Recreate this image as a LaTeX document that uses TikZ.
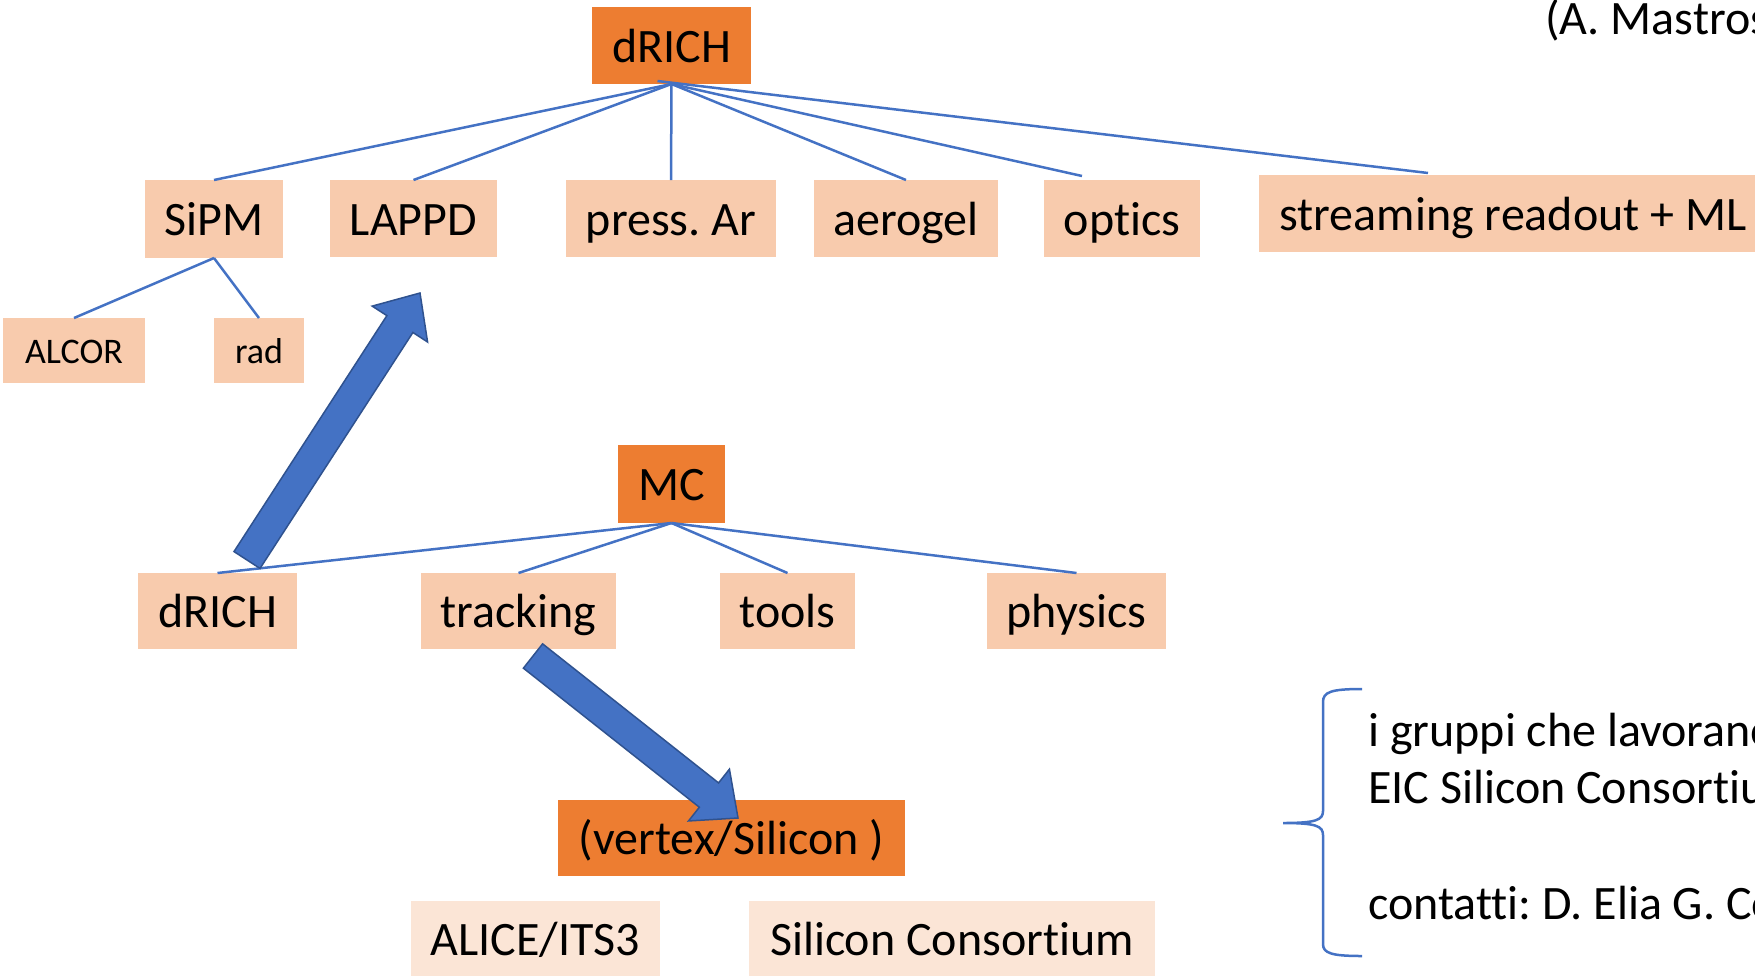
\documentclass[tikz,border=0pt]{standalone}
\usepackage{fontspec}
\setmainfont{Carlito}[Ligatures={NoCommon}]
\usetikzlibrary{calc}
\definecolor{dorange}{HTML}{ED7D31}
\definecolor{lorange}{HTML}{F8CBAD}
\definecolor{llorange}{HTML}{FBE5D6}
\definecolor{lblue}{HTML}{4472C4}
\definecolor{dblue}{HTML}{2F528F}
\newcommand\fatarrow[2]{%
  \coordinate (#1j) at ($(#2)!37pt!(#1)$);
  \draw[fat] ($(#1)!15.5pt!90:(#2)$) -- ($(#1j)!15.5pt!90:(#2)$) -- ($(#1j)!33pt!90:(#2)$)
    -- (#2) -- ($(#1j)!33pt!-90:(#2)$) -- ($(#1j)!15.5pt!-90:(#2)$) -- ($(#1)!15.5pt!-90:(#2)$) -- cycle;}
\frenchspacing
\begin{document}
\begin{tikzpicture}[x=1pt,y=-1pt,
  box/.style={rectangle, inner sep=0pt, outer sep=0pt, text height=35pt, text depth=2pt, font=\fontsize{48}{58}\selectfont},
  sbox/.style={rectangle, inner sep=0pt, outer sep=0pt, fill=lorange, text height=26pt, text depth=1pt, font=\fontsize{36}{43}\selectfont},
  hot/.style={box, fill=dorange},
  warm/.style={box, fill=lorange},
  pale/.style={box, fill=llorange},
  link/.style={draw=lblue, line width=2.5pt},
  fat/.style={fill=lblue, draw=dblue, line width=1.5pt, line join=miter},
  brace/.style={draw=lblue, line width=2.5pt},
  plain/.style={anchor=base west, inner sep=0pt, font=\fontsize{48}{58}\selectfont}]
\useasboundingbox (0,0) rectangle (1755,975);
\clip (0,0) rectangle (1755,975);
% top tree
\node[hot, minimum width=159pt, minimum height=77pt] (drich) at (671.5,45.5) {dRICH};
\node[warm, minimum width=138pt, minimum height=78pt] (sipm) at (214,219) {SiPM};
\node[warm, minimum width=167pt, minimum height=77pt] (lappd) at (413.5,218.5) {LAPPD};
\node[warm, minimum width=210pt, minimum height=77pt] (pressar) at (671,218.5) {press. Ar};
\node[warm, minimum width=184pt, minimum height=77pt] (aerogel) at (906,218.5) {aerogel};
\node[warm, minimum width=156pt, minimum height=77pt] (optics) at (1122,218.5) {optics};
\node[warm, minimum width=508pt, minimum height=77pt] (stream) at (1513,213.5) {streaming readout + ML};
\node[sbox, minimum width=142pt, minimum height=65pt] (alcor) at (74,350.5) {ALCOR};
\node[sbox, minimum width=90pt, minimum height=65pt] (rad) at (259,350.5) {rad};
% MC tree
\node[hot, minimum width=107pt, minimum height=78pt] (mc) at (671.5,484) {MC};
\node[warm, minimum width=159pt, minimum height=76pt] (drich2) at (217.5,611) {dRICH};
\node[warm, minimum width=195pt, minimum height=76pt] (tracking) at (518.5,611) {tracking};
\node[warm, minimum width=135pt, minimum height=76pt] (tools) at (787.5,611) {tools};
\node[warm, minimum width=179pt, minimum height=76pt] (physics) at (1076.5,611) {physics};
% silicon
\node[hot, minimum width=347pt, minimum height=76pt] (vertex) at (731.5,838) {(vertex/Silicon )};
\node[pale, minimum width=249pt, minimum height=76pt] (alice) at (535.5,939) {ALICE/ITS3};
\node[pale, minimum width=406pt, minimum height=76pt] (sicons) at (952,939) {Silicon Consortium};
% connectors
\draw[link] (drich.south) -- (sipm.north);
\draw[link] (drich.south) -- (lappd.north);
\draw[link] (drich.south) -- (pressar.north);
\draw[link] (drich.south) -- (aerogel.north);
\draw[link] (drich.south) -- ($(optics.north)+(-40,-4)$);
\draw[link] ($(drich.south)+(-14,-3)$) -- ($(stream.north)+(-85,-2)$);
\draw[link] (sipm.south) -- (alcor.north);
\draw[link] (sipm.south) -- (rad.north);
\draw[link] (mc.south) -- (drich2.north);
\draw[link] (mc.south) -- (tracking.north);
\draw[link] (mc.south) -- (tools.north);
\draw[link] (mc.south) -- (physics.north);
% fat arrows
\coordinate (aone) at ($(drich2.north)+(29.5,-13)$);
\coordinate (aonetip) at ($(lappd.south)+(6.5,36)$);
\fatarrow{aone}{aonetip}
\coordinate (atwo) at ($(tracking.south)+(14.5,7)$);
\coordinate (atwotip) at ($(vertex.north)+(6.5,18)$);
\fatarrow{atwo}{atwotip}
% right side texts
\node[plain] (auth) at (1545,34) {(A. Mastros};
\node[plain] (rtone) at (1368,746) {i gruppi che lavorano};
\node[plain] (rttwo) at (1368,803) {EIC Silicon Consortium};
\node[plain] (rtthree) at (1368,919) {contatti: D. Elia G. Co};
% brace
\draw[brace] (1362,689) .. controls (1331,689) and (1323,692) .. (1323,702) -- (1323,811)
  .. controls (1323,820) and (1316,823) .. (1283,823)
  .. controls (1316,823) and (1323,826) .. (1323,835) -- (1323,944)
  .. controls (1323,953) and (1331,956) .. (1362,956);
\end{tikzpicture}
\end{document}
